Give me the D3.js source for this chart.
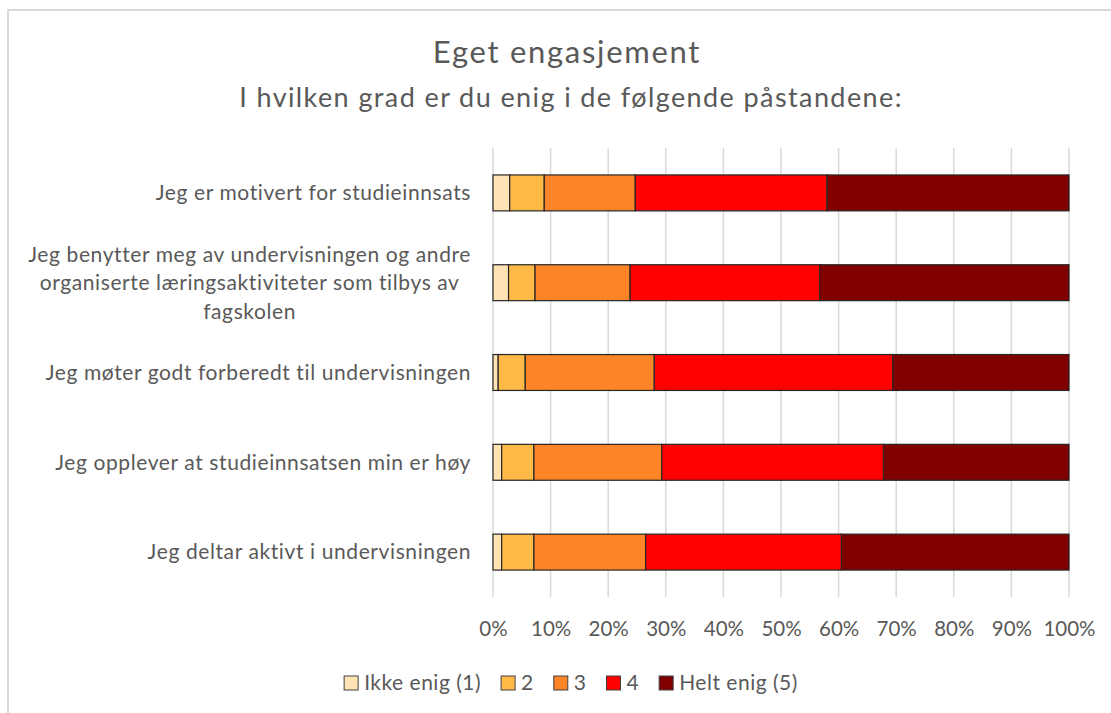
<!DOCTYPE html>
<html lang="no">
<head>
<meta charset="UTF-8">
<title>Eget engasjement</title>
<script src="https://cdnjs.cloudflare.com/ajax/libs/d3/7.8.5/d3.min.js"></script>
<style>
  body { margin: 0; background: #fff; }
  text { font-family: Lato, "Open Sans", sans-serif; fill: #595959; }
</style>
</head>
<body>
<div id="chart"></div>
<script>
// påstander (ovenfra og ned)
const categories = [
  'Jeg er motivert for studieinnsats',
  'Jeg benytter meg av undervisningen og andre|organiserte læringsaktiviteter som tilbys av|fagskolen',
  'Jeg møter godt forberedt til undervisningen',
  'Jeg opplever at studieinnsatsen min er høy',
  'Jeg deltar aktivt i undervisningen'
];
const seriesNames = ['Ikke enig (1)', '2', '3', '4', 'Helt enig (5)'];
// andel i prosent per påstand, samme rekkefølge som categories
const ikkeEnig = [2.9, 2.7, 0.9, 1.5, 1.5];
const s2 = [6.0, 4.6, 4.7, 5.6, 5.6];
const s3 = [15.8, 16.5, 22.4, 22.2, 19.4];
const s4 = [33.3, 32.9, 41.4, 38.5, 34.0];
const heltEnig = [42.0, 43.3, 30.6, 32.2, 39.5];
const tickValues = [0, 10, 20, 30, 40, 50, 60, 70, 80, 90, 100];
const colors = ['#FFE3B5', '#FFB947', '#FE8527', '#FF0000', '#800000'];

const width = 1111, height = 713;
const margin = { left: 493, right: 42, top: 148, bottom: 116 };

const svg = d3.select('#chart').append('svg')
  .attr('width', width)
  .attr('height', height);

// ramme rundt diagrammet
svg.append('rect')
  .attr('x', 8).attr('y', 10)
  .attr('width', width + 20).attr('height', height + 20)
  .attr('fill', 'none')
  .attr('stroke', '#d9d9d9')
  .attr('stroke-width', 2);

// titler
svg.append('text')
  .attr('x', 567).attr('y', 63)
  .attr('text-anchor', 'middle')
  .style('font-size', '31px')
  .style('letter-spacing', '1.7px')
  .text('Eget engasjement');
svg.append('text')
  .attr('x', 571).attr('y', 107)
  .attr('text-anchor', 'middle')
  .style('font-size', '27px')
  .style('letter-spacing', '1.4px')
  .text('I hvilken grad er du enig i de følgende påstandene:');

const x = d3.scaleLinear()
  .domain([0, 100])
  .range([margin.left, width - margin.right]);

const y = d3.scaleBand()
  .domain(categories)
  .range([margin.top, height - margin.bottom])
  .paddingInner(0.6)
  .paddingOuter(0.3);

// rutenett
svg.append('g')
  .selectAll('line')
  .data(tickValues)
  .join('line')
  .attr('x1', d => x(d)).attr('x2', d => x(d))
  .attr('y1', margin.top).attr('y2', height - margin.bottom)
  .attr('stroke', '#d9d9d9')
  .attr('stroke-width', 1.5);

// x-akse
const xAxis = svg.append('g')
  .attr('transform', `translate(0,${height - margin.bottom})`)
  .call(d3.axisBottom(x).tickValues(tickValues).tickFormat(d => d + '%').tickSize(0).tickPadding(24));
xAxis.select('.domain').remove();
xAxis.selectAll('text')
  .style('font-size', '20.5px')
  .attr('fill', '#595959');

// stable data
const rows = categories.map((c, i) => ({
  cat: c,
  '0': ikkeEnig[i], '1': s2[i], '2': s3[i], '3': s4[i], '4': heltEnig[i]
}));
const stack = d3.stack().keys(['0', '1', '2', '3', '4']);
const layers = stack(rows);

svg.append('g')
  .selectAll('g')
  .data(layers)
  .join('g')
  .attr('fill', (d, i) => colors[i])
  .selectAll('rect')
  .data(d => d)
  .join('rect')
  .attr('x', d => x(d[0]))
  .attr('width', d => x(d[1]) - x(d[0]))
  .attr('y', d => y(d.data.cat))
  .attr('height', y.bandwidth())
  .attr('stroke', '#262626')
  .attr('stroke-width', 1.2);

// kategorietiketter
const labelX = 471;
const lineH = 28.5;
categories.forEach(c => {
  const lines = c.split('|');
  const g = svg.append('g');
  const cy = y(c) + y.bandwidth() / 2;
  const t = g.selectAll('text')
    .data(lines)
    .join('text')
    .attr('y', (d, i) => cy + (i - (lines.length - 1) / 2) * lineH)
    .attr('dy', '0.35em')
    .style('font-size', '21px')
    .style('letter-spacing', '0.6px')
    .text(d => d);
  if (lines.length === 1) {
    t.attr('x', labelX).attr('text-anchor', 'end');
  } else {
    // Excel sentrerer brutte linjer
    let maxW = 0;
    t.each(function () { maxW = Math.max(maxW, this.getComputedTextLength()); });
    t.attr('x', labelX - maxW / 2).attr('text-anchor', 'middle');
  }
});

// forklaring
const legend = svg.append('g');
const box = 14, gapText = 6, gapItem = 20;
let lx = 0;
seriesNames.forEach((name, i) => {
  const item = legend.append('g').attr('transform', `translate(${lx},0)`);
  item.append('rect')
    .attr('x', 0).attr('y', -box / 2)
    .attr('width', box).attr('height', box)
    .attr('fill', colors[i])
    .attr('stroke', '#404040')
    .attr('stroke-width', 1);
  const t = item.append('text')
    .attr('x', box + gapText)
    .attr('dy', '0.35em')
    .style('font-size', '21px')
    .style('letter-spacing', '0.5px')
    .text(name);
  lx += box + gapText + t.node().getComputedTextLength() + gapItem;
});
const legendW = lx - gapItem;
legend.attr('transform', `translate(${571 - legendW / 2},683)`);
</script>
</body>
</html>
